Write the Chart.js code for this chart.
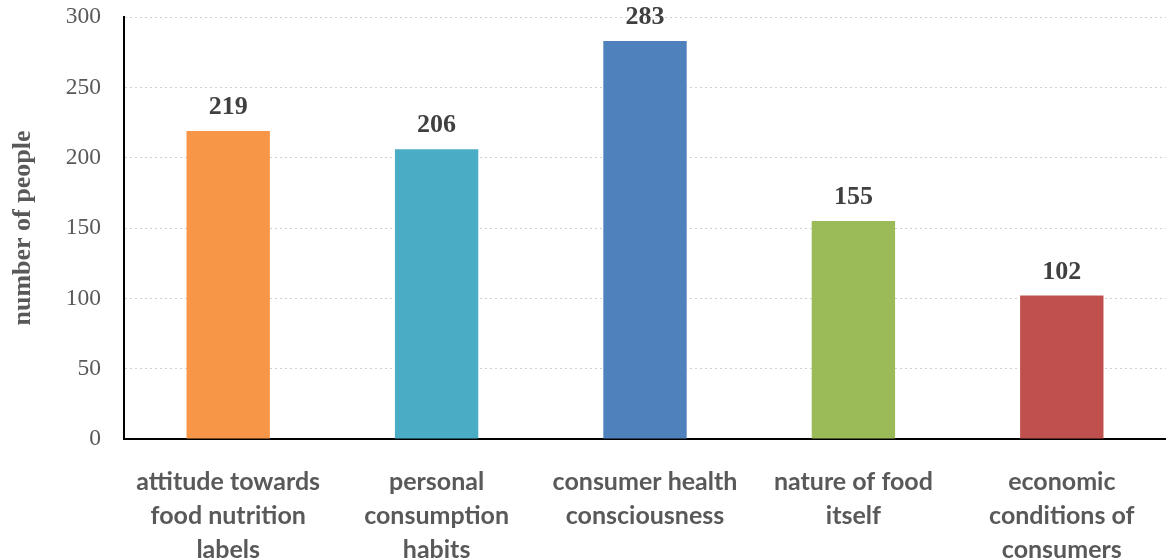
<!DOCTYPE html>
<html>
<head>
<meta charset="utf-8">
<script src="https://cdn.jsdelivr.net/npm/chart.js@4"></script>
<style>
  html, body { margin: 0; padding: 0; background: #fff; }
  #wrap { width: 1166px; height: 558px; }
</style>
</head>
<body>
<div id="wrap"><canvas id="barChart" width="1166" height="558"></canvas></div>
<script>
const categories = [
    ["attitude towards", "food nutrition", "labels"],
    ["personal", "consumption", "habits"],
    ["consumer health", "consciousness"],
    ["nature of food", "itself"],
    ["economic", "conditions of", "consumers"]
];
const people = [219, 206, 283, 155, 102];
const barColors = ["#f79646", "#4bacc6", "#4f81bd", "#9bbb59", "#c0504d"];
const yTicks = [0, 50, 100, 150, 200, 250, 300];

// values above bars
const valueLabels = {
    id: "valueLabels",
    afterDatasetsDraw(chart) {
        const ctx = chart.ctx;
        const meta = chart.getDatasetMeta(0);
        ctx.save();
        ctx.font = "bold 26px 'Liberation Serif', 'Times New Roman', serif";
        ctx.fillStyle = "#404040";
        ctx.textAlign = "center";
        ctx.textBaseline = "alphabetic";
        meta.data.forEach(function (bar, i) {
            ctx.fillText(people[i], bar.x, bar.y - 17);
        });
        ctx.restore();
    }
};

document.addEventListener("DOMContentLoaded", function () {
    const ctx = document.getElementById("barChart").getContext("2d");
    new Chart(ctx, {
        type: "bar",
        data: {
            labels: categories,
            datasets: [{
                data: people,
                backgroundColor: barColors,
                barPercentage: 0.4,
                categoryPercentage: 1.0
            }]
        },
        options: {
            responsive: false,
            animation: false,
            layout: { padding: { top: 17, right: 0, left: 0, bottom: 0 } },
            plugins: {
                legend: { display: false },
                tooltip: { enabled: false }
            },
            scales: {
                x: {
                    grid: { display: false },
                    border: { color: "#000", width: 2 },
                    ticks: {
                        color: "#595959",
                        font: { family: "Lato, 'Open Sans', sans-serif", size: 25, weight: "bold", lineHeight: 1.36 },
                        padding: 18,
                        maxRotation: 0,
                        autoSkip: false
                    },
                    afterFit(scale) {
                        scale.height = 119;
                        scale.paddingLeft = 0;
                        scale.paddingRight = 0;
                    }
                },
                y: {
                    min: 0,
                    max: 300,
                    afterBuildTicks(scale) { scale.ticks = yTicks.map(v => ({ value: v })); },
                    grid: { color: "#d0d0d0", lineWidth: 1, drawTicks: false },
                    border: { color: "#000", width: 2, dash: [2, 3] },
                    ticks: {
                        color: "#595959",
                        font: { family: "'Liberation Serif', 'Times New Roman', serif", size: 23.5 },
                        padding: 23
                    },
                    title: {
                        display: true,
                        text: "number of people",
                        color: "#595959",
                        font: { family: "'Liberation Serif', 'Times New Roman', serif", size: 26, weight: "bold" },
                        padding: { top: 8, bottom: 0 }
                    },
                    afterFit(scale) {
                        scale.width = 124;
                        scale.paddingTop = 0;
                        scale.paddingBottom = 0;
                    }
                }
            }
        },
        plugins: [valueLabels]
    });
});
</script>
</body>
</html>
